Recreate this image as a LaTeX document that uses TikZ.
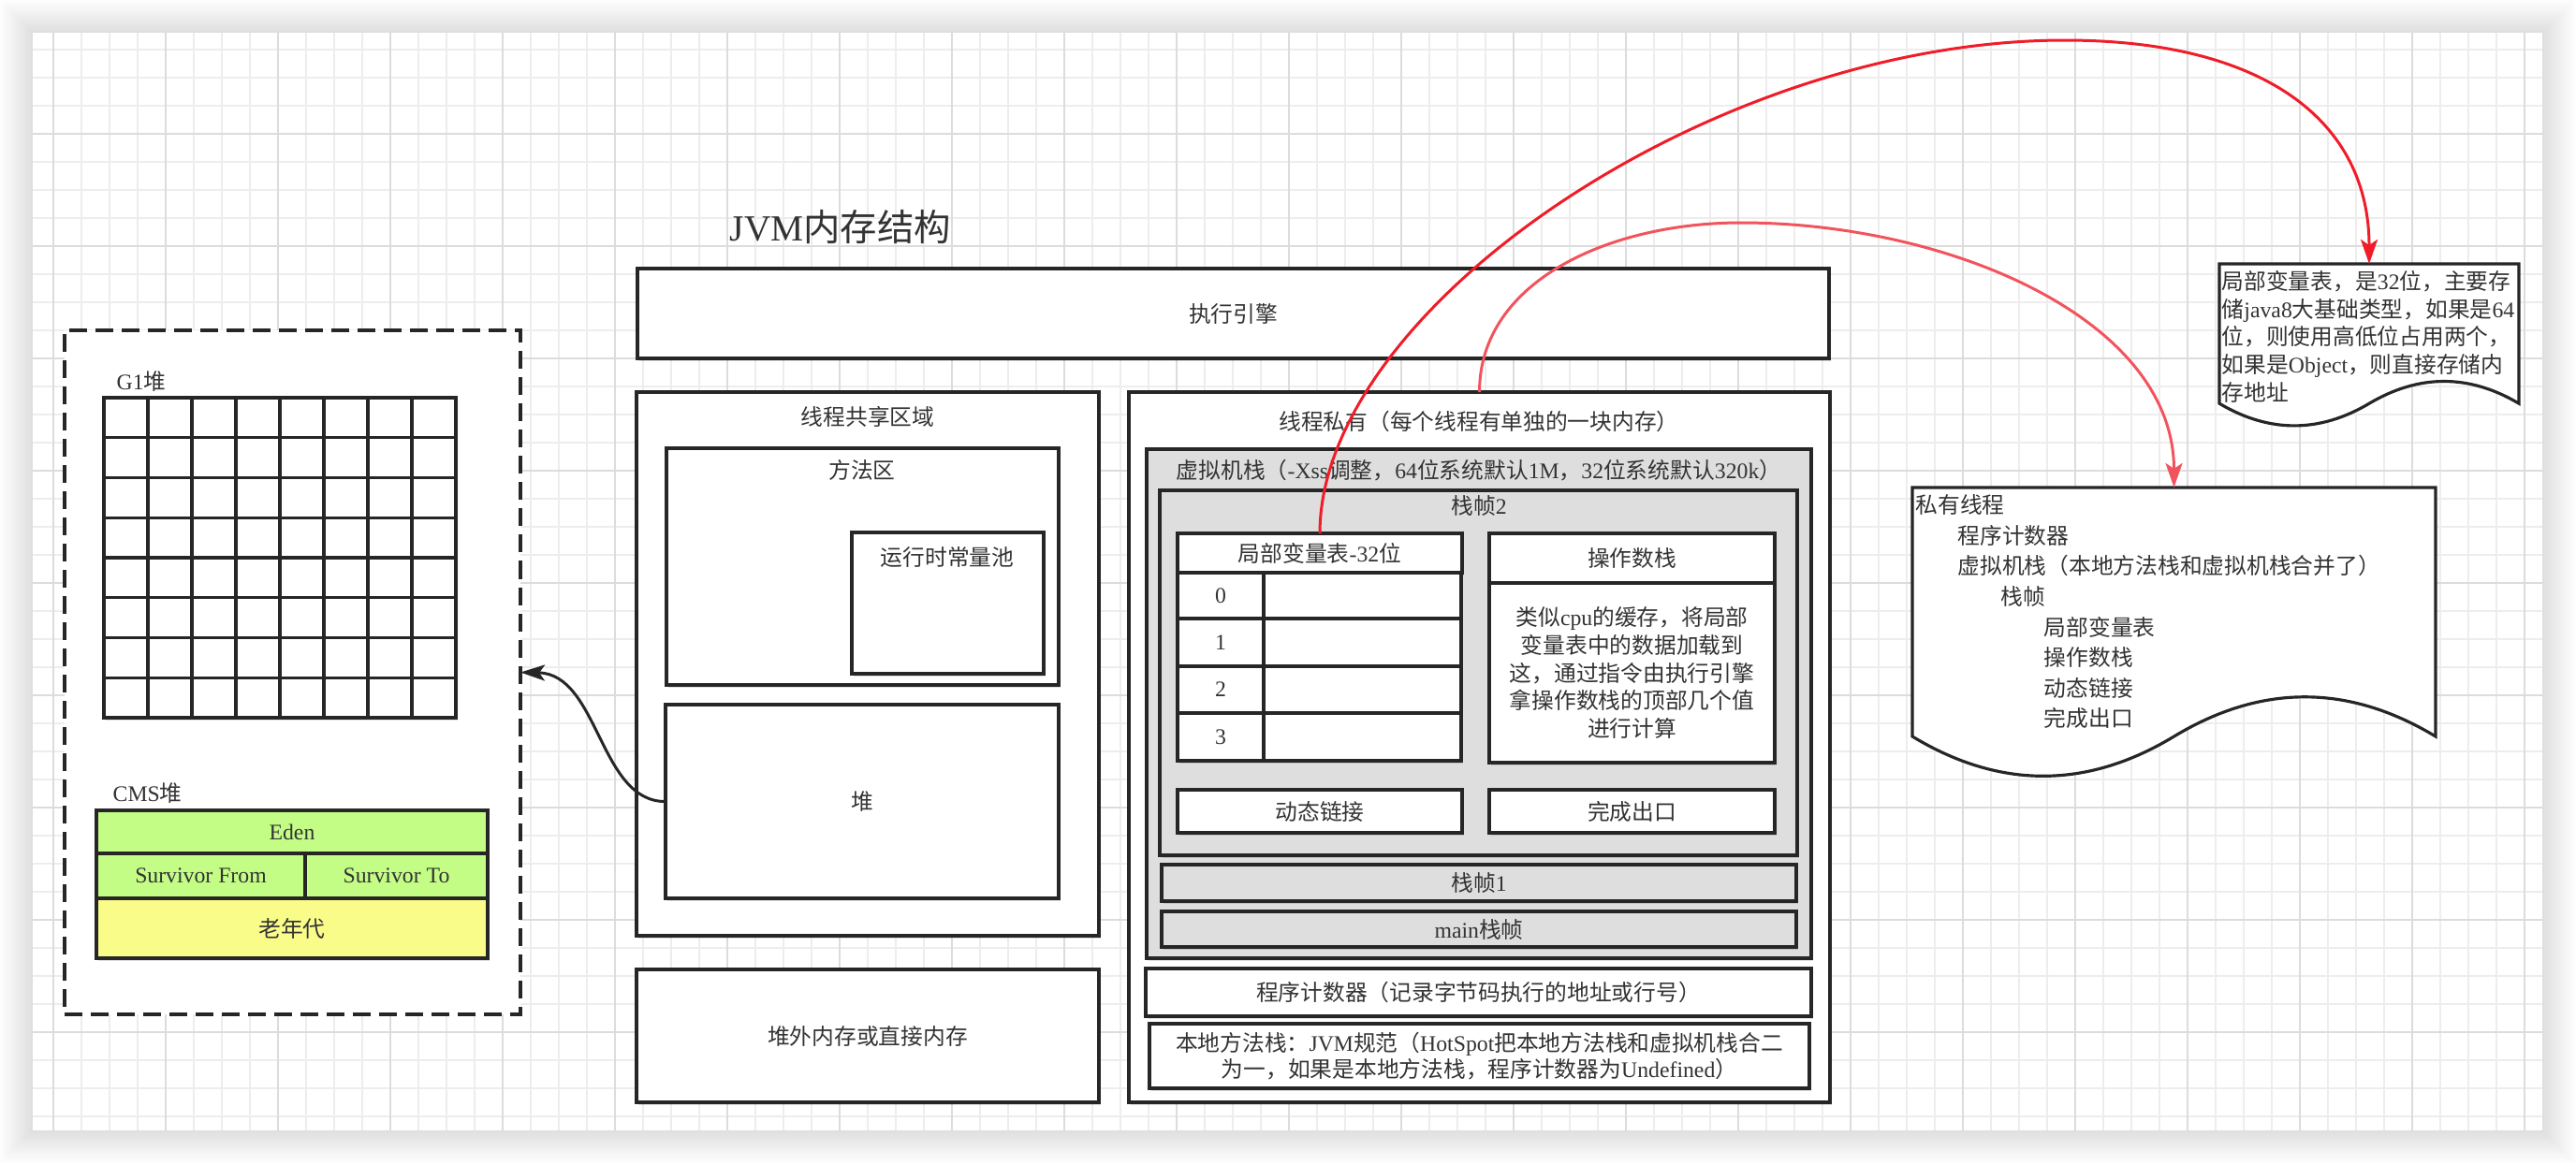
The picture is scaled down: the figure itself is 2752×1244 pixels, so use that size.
\documentclass[tikz,border=0pt]{standalone}
\usepackage{fontspec}
\setmainfont{Liberation Serif}
\newfontfamily\cjkfont{Noto Sans CJK SC}
\usetikzlibrary{arrows.meta,shadows}

% switch to the CJK font for ideographs and full-width punctuation
\XeTeXinterchartokenstate=1
\newXeTeXintercharclass\cjkclass
\newcount\cjkcnt
\newcommand\setcjkrange[2]{\cjkcnt=#1\relax
  \loop\XeTeXcharclass\cjkcnt=\cjkclass\relax
  \ifnum\cjkcnt<#2\relax\advance\cjkcnt by 1\relax\repeat}
\setcjkrange{"3000}{"303F}
\setcjkrange{"4E00}{"9FFF}
\setcjkrange{"FF00}{"FFEF}
\XeTeXinterchartoks 0 \cjkclass = {\cjkfont}
\XeTeXinterchartoks 4095 \cjkclass = {\cjkfont}
\XeTeXinterchartoks \cjkclass 0 = {\rmfamily}
\XeTeXinterchartoks \cjkclass 4095 = {\rmfamily}

\definecolor{stroke}{HTML}{262626}
\definecolor{txt}{HTML}{333333}
\definecolor{panel}{HTML}{DEDEDE}
\definecolor{gminor}{HTML}{EDEDED}
\definecolor{gmajor}{HTML}{DCDCDC}
\definecolor{edenfill}{HTML}{C3FD86}
\definecolor{oldfill}{HTML}{FAFC8A}
\definecolor{redA}{HTML}{F01C28}
\definecolor{redB}{HTML}{F2545D}

\tikzset{
  txtfont/.style={font=\fontsize{6.75pt}{8.4pt}\selectfont, text=txt},
  box/.style={txtfont, draw=stroke, fill=white, line width=0.9pt,
    inner sep=0pt, outer sep=0pt,
    drop shadow={shadow xshift=0.02cm, shadow yshift=-0.03cm, opacity=0.12, fill=black}},
  panelbox/.style={box, fill=panel},
  edenbox/.style={box, fill=edenfill},
  oldbox/.style={box, fill=oldfill},
  boxtitle/.style={txtfont, inner sep=0pt},
  dashbox/.style={draw=stroke, fill=white, line width=1pt, inner sep=0pt,
    outer sep=0pt, dash pattern=on 0.19cm off 0.09cm},
  cellline/.style={draw=stroke, line width=0.9pt},
  notebox/.style={draw=stroke, fill=white, line width=0.9pt},
  redcurve/.style={line width=0.85pt,
    -{Stealth[length=0.26cm, width=0.18cm, inset=0.06cm]}},
  heaparrow/.style={draw=stroke, line width=0.85pt,
    -{Stealth[length=0.26cm, width=0.17cm, inset=0.06cm]}},
}

% rectangle node given by its corners (in picture units)
\newcommand\rbox[7]{%
  \pgfmathsetmacro\rbw{0.01*((#5)-(#3))}%
  \pgfmathsetmacro\rbh{0.01*((#6)-(#4))}%
  \node[#1, minimum width=\rbw cm, minimum height=\rbh cm]
    (#2) at ({((#3)+(#5))/2},{((#4)+(#6))/2}) {#7};}

\begin{document}
\begin{tikzpicture}[x=0.01cm, y=-0.01cm]
\useasboundingbox (0,0) rectangle (2752,1244);
\fill[white] (0,0) rectangle (2752,1244);

% page with soft shadow and grid
\foreach \i in {1,...,16}
  \fill[black, opacity=0.009] (35-2.2*\i,35-2.2*\i) rectangle (2716+2.2*\i,1208+2.2*\i);
\fill[white] (35,35) rectangle (2716,1208);
\foreach \gx in {57,87,...,2697} \draw[gminor, line width=0.55pt] (\gx,35) -- (\gx,1208);
\foreach \gy in {53,83,...,1193} \draw[gminor, line width=0.55pt] (35,\gy) -- (2716,\gy);
\foreach \gx in {57,177,...,2697} \draw[gmajor, line width=0.6pt] (\gx,35) -- (\gx,1208);
\foreach \gy in {143,263,...,1103} \draw[gmajor, line width=0.6pt] (35,\gy) -- (2716,\gy);

% title
\node[txtfont, font=\fontsize{11.2pt}{13pt}\selectfont, anchor=west, inner sep=0pt]
  (title) at (779,243) {JVM内存结构};

% ---------- garbage collector heaps ----------
\rbox{dashbox}{gc}{69}{353}{556}{1084}{}
\node[boxtitle, anchor=west] (g1lbl) at (124,408) {G1堆};
\rbox{box}{g1}{111}{425}{487}{767}{}
\foreach \i in {1,...,7} {
  \draw[cellline] (111+47*\i,425) -- (111+47*\i,767);
  \draw[cellline] (111,425+42.75*\i) -- (487,425+42.75*\i);
}
\node[boxtitle, anchor=west] (cmslbl) at (120,848) {CMS堆};
\rbox{edenbox}{eden}{103}{866}{521}{912}{Eden}
\rbox{edenbox}{sfrom}{103}{912}{326}{960}{Survivor From}
\rbox{edenbox}{sto}{326}{912}{521}{960}{Survivor To}
\rbox{oldbox}{oldgen}{103}{960}{521}{1024}{老年代}

% ---------- shared area ----------
\rbox{box}{engine}{681}{287}{1954}{383}{执行引擎}
\rbox{box}{shared}{680}{419}{1174}{1000}{}
\node[boxtitle] (sharedlbl) at (927,445) {线程共享区域};
\rbox{box}{method}{712}{479}{1131}{732}{}
\node[boxtitle] (methodlbl) at (921,502) {方法区};
\rbox{box}{rcp}{910}{569}{1115}{720}{}
\node[boxtitle] (rcplbl) at (1012,595) {运行时常量池};
\rbox{box}{heap}{711}{753}{1131}{960}{堆}
\rbox{box}{offheap}{680}{1036}{1174}{1178}{堆外内存或直接内存}

% ---------- thread private area ----------
\rbox{box}{private}{1206}{419}{1955}{1178}{}
\node[boxtitle] (privatelbl) at (1580,450) {线程私有（每个线程有单独的一块内存）};
\rbox{panelbox}{vmstack}{1225}{480}{1935}{1024}{}
\node[boxtitle] (vmstacklbl) at (1580,503) {虚拟机栈（-Xss调整，64位系统默认1M，32位系统默认320k）};
\rbox{panelbox}{frame2}{1239}{524}{1920}{914}{}
\node[boxtitle] (frame2lbl) at (1580,540) {栈帧2};

\rbox{box}{lvhead}{1258}{570}{1562}{612}{局部变量表-32位}
\rbox{box}{idx0}{1258}{612}{1350}{661}{0}
\rbox{box}{val0}{1350}{612}{1561}{661}{}
\rbox{box}{idx1}{1258}{661}{1350}{712}{1}
\rbox{box}{val1}{1350}{661}{1561}{712}{}
\rbox{box}{idx2}{1258}{712}{1350}{762}{2}
\rbox{box}{val2}{1350}{712}{1561}{762}{}
\rbox{box}{idx3}{1258}{762}{1350}{813}{3}
\rbox{box}{val3}{1350}{762}{1561}{813}{}

\rbox{box}{ophead}{1591}{570}{1896}{623}{操作数栈}
\rbox{box, align=center, font=\fontsize{6.75pt}{8.5pt}\selectfont}{opbody}{1591}{623}{1896}{815}
  {类似cpu的缓存，将局部\\变量表中的数据加载到\\这，通过指令由执行引擎\\拿操作数栈的顶部几个值\\进行计算}
\rbox{box}{dynlink}{1258}{844}{1562}{890}{动态链接}
\rbox{box}{retexit}{1591}{844}{1896}{890}{完成出口}

\rbox{panelbox}{frame1}{1241}{924}{1919}{963}{栈帧1}
\rbox{panelbox}{mainframe}{1241}{974}{1919}{1012}{main栈帧}
\rbox{box}{pc}{1224}{1035}{1935}{1086}{程序计数器（记录字节码执行的地址或行号）}
\rbox{box, align=center, font=\fontsize{6.75pt}{8.2pt}\selectfont}{native}{1228}{1094}{1933}{1163}
  {本地方法栈：JVM规范（HotSpot把本地方法栈和虚拟机栈合二\\为一，如果是本地方法栈，程序计数器为Undefined）}

% ---------- notes ----------
\draw[notebox] (2371,282) -- (2691,282) -- (2691,431.2)
  .. controls (2637.7,399.6) and (2584.3,399.6) .. (2531,431.2)
  .. controls (2477.7,462.8) and (2424.3,462.8) .. (2371,431.2) -- cycle;
\node[inner sep=0pt, outer sep=0pt, minimum width=3.2cm, minimum height=1.755cm]
  (note1) at (2531,369.75) {};
\node[boxtitle, font=\fontsize{6.75pt}{8.4pt}\selectfont, align=left, anchor=north west]
  (note1txt) at (2373,289)
  {局部变量表，是32位，主要存\\储java8大基础类型，如果是64\\位，则使用高低位占用两个，\\如果是Object，则直接存储内\\存地址};

\draw[notebox] (2043,521) -- (2602,521) -- (2602,787)
  .. controls (2508.8,730.7) and (2415.7,730.7) .. (2322.5,787)
  .. controls (2229.3,843.4) and (2136.2,843.4) .. (2043,787) -- cycle;
\node[inner sep=0pt, outer sep=0pt, minimum width=5.59cm, minimum height=3.13cm]
  (note2) at (2322.5,677.5) {};
\node[boxtitle, font=\fontsize{6.75pt}{9.27pt}\selectfont, align=left, anchor=north west]
  (note2txt) at (2046,528)
  {私有线程\\
   \hspace*{0.45cm}程序计数器\\
   \hspace*{0.45cm}虚拟机栈（本地方法栈和虚拟机栈合并了）\\
   \hspace*{0.91cm}栈帧\\
   \hspace*{1.37cm}局部变量表\\
   \hspace*{1.37cm}操作数栈\\
   \hspace*{1.37cm}动态链接\\
   \hspace*{1.37cm}完成出口};

% ---------- connectors ----------
\draw[heaparrow] (heap.west) .. controls (640,857) and (640,720) .. (gc.east);

\coordinate (peakA) at (2206,43);
\coordinate (peakB) at (1860,238);
\draw[redcurve, draw=redA] (lvhead.north)
  .. controls (1410,330) and (1830,43) .. (peakA)
  .. controls (2420,43) and (2531,130) .. (note1.north);
\draw[redcurve, draw=redB] (private.north)
  .. controls (1580.5,300) and (1720,238) .. (peakB)
  .. controls (2080,238) and (2322.5,340) .. (note2.north);
\end{tikzpicture}
\end{document}
